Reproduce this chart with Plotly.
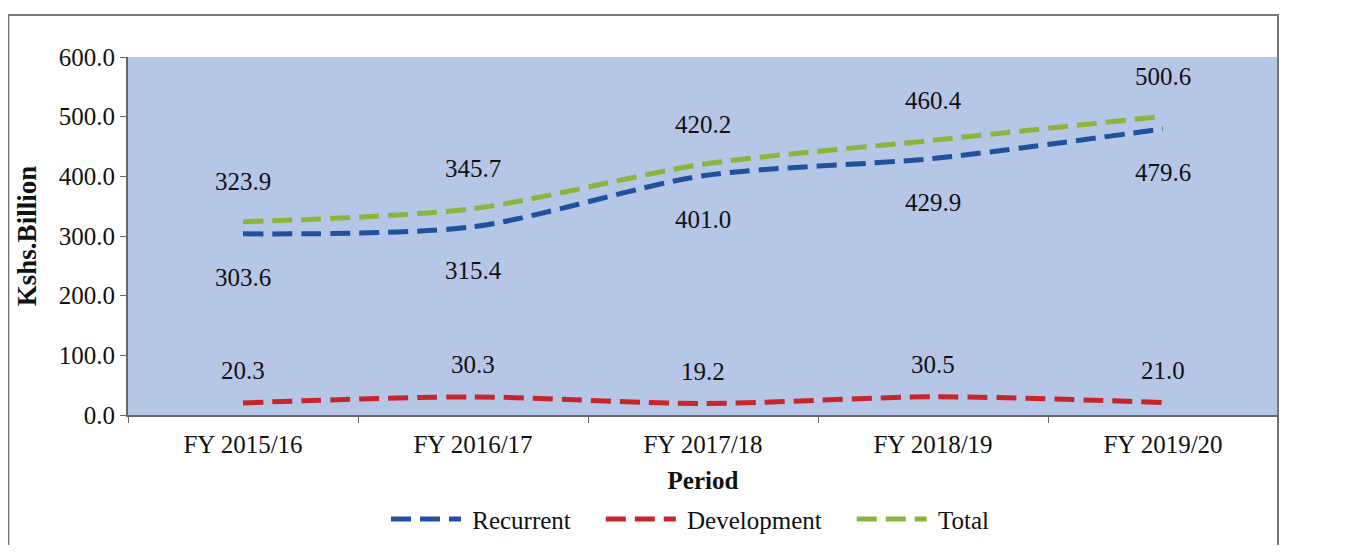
import plotly.graph_objects as go

# データ
periods = ["FY 2015/16", "FY 2016/17", "FY 2017/18", "FY 2018/19", "FY 2019/20"]
recurrent = [303.6, 315.4, 401.0, 429.9, 479.6]
development = [20.3, 30.3, 19.2, 30.5, 21.0]
total = [323.9, 345.7, 420.2, 460.4, 500.6]
y_ticks = [0, 100, 200, 300, 400, 500, 600]

FONT = "Liberation Serif"
FS = 25
NB = "\u00a0"

series = [
    ("Recurrent", recurrent, "#21509f", -44),
    ("Development", development, "#c8252b", 32),
    ("Total", total, "#8ab53a", 40),
]

fig = go.Figure()

for name, vals, color, shift in series:
    fig.add_trace(go.Scatter(
        x=periods,
        y=vals,
        name=NB + name + NB * 4,
        mode="lines",
        line=dict(color=color, width=5, dash="20px,9px", shape="spline", smoothing=0.8),
        hoverinfo="x+y",
    ))
    # ラベル
    for p, v in zip(periods, vals):
        fig.add_annotation(
            x=p, y=v, text=f"{v:.1f}", showarrow=False,
            yshift=shift, font=dict(family=FONT, size=FS, color="#111"),
        )

# 外枠 (ページ余白 8px を考慮)
fig.add_shape(
    type="rect", xref="paper", yref="paper",
    x0=-0.104, x1=1.0, y0=-0.5, y1=1.117,
    line=dict(color="#777", width=2), layer="below",
)

fig.update_layout(
    width=1344,
    height=537,
    margin=dict(l=120, r=74, t=49, b=130, autoexpand=False),
    paper_bgcolor="white",
    plot_bgcolor="#b5c6e6",
    showlegend=True,
    legend=dict(
        orientation="h", x=0.5, xanchor="center",
        yref="container", y=0.048, yanchor="middle",
        font=dict(family=FONT, size=FS, color="#111"),
        itemwidth=70, bgcolor="rgba(0,0,0,0)",
    ),
    xaxis=dict(
        title=dict(text="<b>Period</b>", font=dict(family=FONT, size=FS, color="#111"), standoff=14),
        tickfont=dict(family=FONT, size=FS, color="#111"),
        range=[-0.5, 4.5],
        showline=True, linecolor="#666", linewidth=2,
        ticks="outside", tickson="boundaries", ticklen=6, tickcolor="#666",
        ticklabelstandoff=6, automargin=False,
        showgrid=False,
    ),
    yaxis=dict(
        title=dict(text="<b>Kshs.Billion</b>", font=dict(family=FONT, size=27, color="#111"), standoff=14),
        tickfont=dict(family=FONT, size=FS, color="#111"),
        range=[0, 600], tickvals=y_ticks, tickformat=".1f",
        showline=True, linecolor="#666", linewidth=2,
        ticks="outside", ticklen=6, tickcolor="#666",
        automargin=False,
        showgrid=False, zeroline=False,
    ),
)

fig.write_html("out.html")
